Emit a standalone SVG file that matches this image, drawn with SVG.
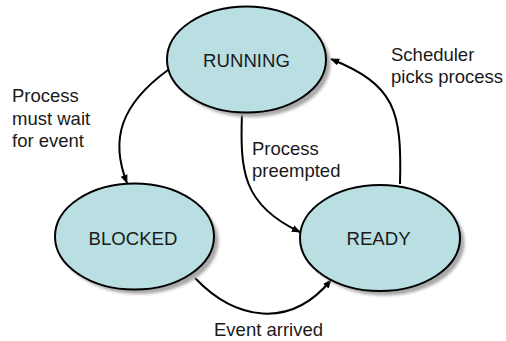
<svg xmlns="http://www.w3.org/2000/svg" width="506" height="341" viewBox="0 0 506 341">
<style>
.shadow{fill:#a8a8a8;filter:url(#blur)}
.state{fill:#b9dfe3;stroke:#000;stroke-width:2}
.name{font-family:"Liberation Sans",Arial,sans-serif;font-size:18.6px;fill:#1a1a1a;text-anchor:middle}
.lbl{font-family:"Liberation Sans",Arial,sans-serif;font-size:18.5px;fill:#1a1a1a}
.edge{fill:none;stroke:#000;stroke-width:2;marker-end:url(#arrow)}
</style>
<defs>
<filter id="blur" x="-20%" y="-20%" width="140%" height="140%"><feGaussianBlur stdDeviation="1.5"/></filter>
<marker id="arrow" viewBox="0 0 10 10" refX="9" refY="5" markerWidth="9" markerHeight="9" markerUnits="userSpaceOnUse" orient="auto">
<path d="M0,1 L10,5 L0,9 Z" fill="#000"/>
</marker>
</defs>
<g id="connectors">
<path class="edge" d="M168,70 C120,105 110,140 127,183"/>
<path class="edge" d="M242,113 C240,170 242,205 300,232"/>
<path class="edge" d="M400,184 C402,110 395,85 331,59"/>
<path class="edge" d="M195,278 C235,320 290,330 331,280"/>
</g>
<g id="running">
<ellipse class="shadow" cx="251" cy="64" rx="79.5" ry="53"/>
<ellipse class="state" cx="246.5" cy="59.5" rx="79.5" ry="53"/>
<text class="name" x="246.5" y="67">RUNNING</text>
</g>
<g id="blocked">
<ellipse class="shadow" cx="139" cy="241" rx="79.5" ry="53"/>
<ellipse class="state" cx="134.5" cy="236.5" rx="79.5" ry="53"/>
<text class="name" x="133" y="245">BLOCKED</text>
</g>
<g id="ready">
<ellipse class="shadow" cx="384.5" cy="242.5" rx="80" ry="53"/>
<ellipse class="state" cx="380" cy="238" rx="80" ry="53"/>
<text class="name" x="378.5" y="245">READY</text>
</g>
<g id="labels">
<text class="lbl" x="12" y="102">Process</text>
<text class="lbl" x="12" y="125">must wait</text>
<text class="lbl" x="12" y="147">for event</text>
<text class="lbl" x="391" y="61">Scheduler</text>
<text class="lbl" x="391" y="83">picks process</text>
<text class="lbl" x="252" y="155">Process</text>
<text class="lbl" x="252" y="177">preempted</text>
<text class="lbl" x="214" y="336">Event arrived</text>
</g>
</svg>
